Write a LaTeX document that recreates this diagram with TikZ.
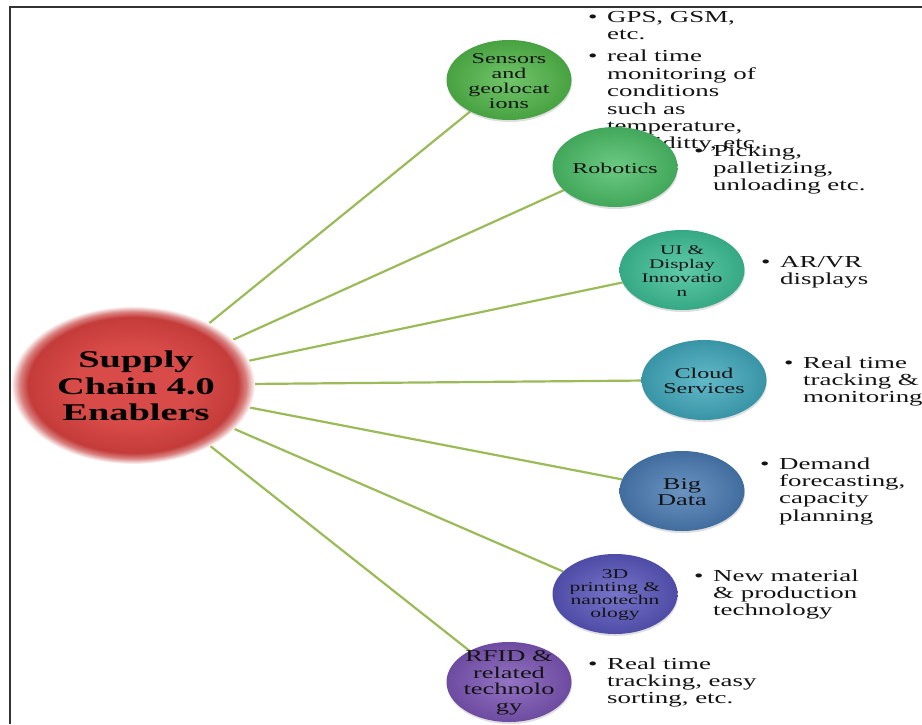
\documentclass[tikz,border=0pt]{standalone}
\usepackage{fontspec}
\setmainfont{Liberation Serif}
\newfontfamily\sfam[FakeStretch=1.6]{Liberation Serif}
\usetikzlibrary{shapes.geometric,backgrounds,shadows}
\definecolor{mainA}{HTML}{D84B48}
\definecolor{mainB}{HTML}{C43C3A}
\definecolor{connC}{HTML}{9BBB59}
\definecolor{frameC}{HTML}{333333}
\definecolor{txtC}{HTML}{141414}
\definecolor{cSens}{HTML}{52B84A}
\definecolor{cRob}{HTML}{4BBE67}
\definecolor{cUI}{HTML}{3DBF96}
\definecolor{cCloud}{HTML}{40A9BC}
\definecolor{cBig}{HTML}{4A7CB4}
\definecolor{cThree}{HTML}{5956BD}
\definecolor{cRfid}{HTML}{7C55B6}
\pgfdeclareradialshading{redglow}{\pgfpoint{0bp}{0bp}}{color(0bp)=(mainA); color(12bp)=(mainA); color(21.5bp)=(mainB); color(23.2bp)=(mainB!65!white); color(25bp)=(white); color(50bp)=(white)}
\tikzset{
  mainnode/.style={ellipse, minimum width=244, minimum height=158, inner sep=0, shading=redglow},
  maintext/.style={align=center, inner sep=0, text=black, font=\sfam\bfseries\fontsize{24}{26.5}\selectfont},
  satball/.style={ellipse, minimum width=125, minimum height=80, inner sep=0, shade,
    inner color=#1!82!white, outer color=#1!88!black,
    drop shadow={opacity=0.25, shadow xshift=0.5pt, shadow yshift=-2pt}},
  sattext/.style 2 args={align=center, inner sep=0, text=txtC, font=\sfam\fontsize{#1}{#2}\selectfont},
  bultext/.style={anchor=base west, inner sep=0, text=txtC, font=\sfam\fontsize{16.8}{17.4}\selectfont},
  conn/.style={draw=connC, line width=2.2pt},
  frameline/.style={draw=frameC, line width=1.5pt}
}
\newcommand{\bu}{\makebox[19pt][l]{\textbullet}}
\begin{document}
\begin{tikzpicture}[x=1pt,y=-1pt]
\useasboundingbox (0,0) rectangle (922,724);
% main
\node[mainnode] (main) at (133,385) {};
\node[maintext] (mainT) at (136,386) {Supply\\Chain 4.0\\Enablers};
% sensors
\node[satball=cSens] (sens) at (509,80) {};
\node[sattext={15}{15.2}] (sensT) at (509,81) {Sensors\\and\\geolocat\\ions};
\node[bultext] (sensB) at (588,22) {\begin{tabular}[t]{@{}l@{}l@{}}\bu&GPS, GSM,\\&etc.\\[5pt]\bu&real time\\&monitoring of\\&conditions\\&such as\\&temperature,\\&humiditty, etc.\end{tabular}};
% robotics
\node[satball=cRob] (rob) at (615,167) {};
\node[sattext={15}{15}] (robT) at (615,168) {Robotics};
\node[bultext] (robB) at (694,156) {\begin{tabular}[t]{@{}l@{}l@{}}\bu&Picking,\\&palletizing,\\&unloading etc.\end{tabular}};
% UI
\node[satball=cUI] (ui) at (682,270) {};
\node[sattext={13.2}{14}] (uiT) at (682,271) {UI \&\\Display\\Innovatio\\n};
\node[bultext] (uiB) at (761,267) {\begin{tabular}[t]{@{}l@{}l@{}}\bu&AR/VR\\&displays\end{tabular}};
% cloud
\node[satball=cCloud] (cloud) at (704,380) {};
\node[sattext={15}{15}] (cloudT) at (704,381) {Cloud\\Services};
\node[bultext] (cloudB) at (784,368) {\begin{tabular}[t]{@{}l@{}l@{}}\bu&Real time\\&tracking \&\\&monitoring\end{tabular}};
% big data
\node[satball=cBig] (big) at (682,491) {};
\node[sattext={16.5}{16.5}] (bigT) at (682,492) {Big\\Data};
\node[bultext] (bigB) at (760,469) {\begin{tabular}[t]{@{}l@{}l@{}}\bu&Demand\\&forecasting,\\&capacity\\&planning\end{tabular}};
% 3D
\node[satball=cThree] (three) at (615,594) {};
\node[sattext={13.5}{12.8}] (threeT) at (615,595) {3D\\printing \&\\nanotechn\\ology};
\node[bultext] (threeB) at (694,581) {\begin{tabular}[t]{@{}l@{}l@{}}\bu&New material\\&\& production\\&technology\end{tabular}};
% RFID
\node[satball=cRfid] (rfid) at (509,682) {};
\node[sattext={16.5}{16.5}] (rfidT) at (509,683) {RFID \&\\related\\technolo\\gy};
\node[bultext] (rfidB) at (588,669) {\begin{tabular}[t]{@{}l@{}l@{}}\bu&Real time\\&tracking, easy\\&sorting, etc.\end{tabular}};
\begin{pgfonlayer}{background}
\fill[white] (0,0) rectangle (922,724);
\draw[conn] (main) -- (sens);
\draw[conn] (main) -- (rob);
\draw[conn] (main) -- (ui);
\draw[conn] (main) -- (cloud);
\draw[conn] (main) -- (big);
\draw[conn] (main) -- (three);
\draw[conn] (main) -- (rfid);
\end{pgfonlayer}
\draw[frameline] (10,724) -- (10,7) -- (922,7);
\end{tikzpicture}
\end{document}
